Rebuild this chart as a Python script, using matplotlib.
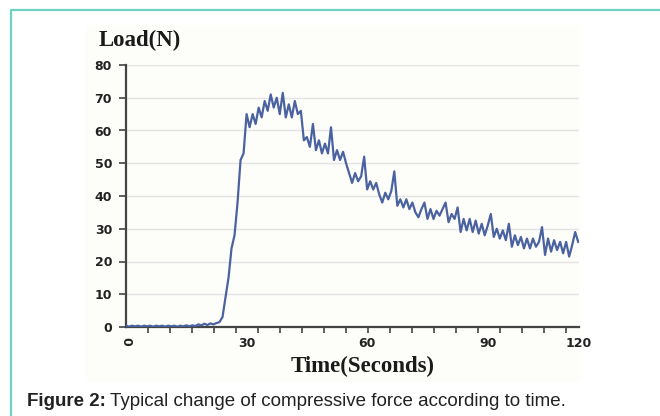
import numpy as np
import matplotlib
matplotlib.use("Agg")
import matplotlib.pyplot as plt
from matplotlib.lines import Line2D
from matplotlib.patches import Rectangle

# load readings, one every 0.75 s
time_step = 0.75
load_values = [
    0.4, 0.1, 0.4, 0.2, 0.4, 0.1, 0.4, 0.2, 0.4, 0.1,
    0.4, 0.2, 0.4, 0.1, 0.4, 0.2, 0.4, 0.1, 0.4, 0.2,
    0.5, 0.2, 0.5, 0.3, 0.8, 0.5, 1.0, 0.6, 1.1, 0.8,
    1.2, 1.5, 3, 9, 15, 24, 28, 38, 51, 53,
    65, 61, 65, 62, 67, 64, 69, 66, 71, 67,
    70, 65, 71.5, 64, 68, 64, 69, 65, 66, 57,
    58, 55, 62, 54, 57, 53, 56, 53, 61, 51,
    54, 51, 53.5, 50, 47, 44, 47, 44.5, 46, 52,
    42, 44.5, 42, 44, 40.5, 38, 41, 39, 41.5, 47.5,
    37, 39, 36.5, 39, 36, 38, 35, 33.5, 36, 38,
    33, 36, 33, 35.5, 34, 36, 38, 32, 34.5, 33,
    36.5, 29, 33, 29.5, 33, 29, 32.5, 28.5, 31.5, 28,
    31, 34.5, 27.5, 30, 27, 29.5, 26.5, 31.5, 24.5, 28,
    25, 27.5, 24, 27, 24, 27, 24.5, 26, 30.5, 22,
    27, 23, 26.5, 23.5, 26, 22.5, 26, 21.5, 25, 29,
    26,
]
times = np.arange(len(load_values)) * time_step

x_end = 112.7
x_label_pos = [0, 30, 60, 90, x_end]
x_labels = ["0", "30", "60", "90", "120"]
y_ticks = [0, 10, 20, 30, 40, 50, 60, 70, 80]

fig = plt.figure(figsize=(6.6, 4.16), dpi=100)

# faint background of the pasted chart image
bg = Rectangle((85 / 660, 1 - 382 / 416), 495 / 660, 357 / 416,
               transform=fig.transFigure, facecolor="#fdfdfa",
               edgecolor="none", zorder=-5)
fig.patches.append(bg)

ax = fig.add_axes([126 / 660, 89 / 416, (579 - 126) / 660, 262 / 416])
ax.set_zorder(1)
ax.set_facecolor("none")
ax.plot(times, load_values, color="#4a62a0", lw=1.6, zorder=3)

ax.set_xlim(0, x_end)
ax.set_ylim(0, 80)
ax.set_yticks(y_ticks)
ax.set_yticklabels([str(v) for v in y_ticks], fontweight="bold", fontsize=9,
                   color="#222222")
ax.yaxis.grid(True, color="#e3e3e3", lw=1)
ax.set_axisbelow(True)

ax.set_xticks(x_label_pos)
ax.set_xticklabels(x_labels, fontweight="bold", fontsize=9, color="#222222")
ax.get_xticklabels()[0].set_rotation(-90)
ax.set_xticks(np.arange(0, x_end, 5.47), minor=True)
ax.tick_params(axis="x", which="major", length=0, pad=7)
ax.tick_params(axis="x", which="minor", length=4, width=1.2, color="#444444",
               direction="out")
ax.tick_params(axis="y", length=5, width=1.2, color="#444444", pad=5)

for side in ["top", "right"]:
    ax.spines[side].set_visible(False)
for side in ["left", "bottom"]:
    ax.spines[side].set_color("#444444")
    ax.spines[side].set_linewidth(1.6)

fig.text(140 / 660, 1 - 40 / 416, "Load(N)", family="Liberation Serif",
         fontweight="bold", fontsize=16.5, ha="center", va="center", color="#1a1a1a")
fig.text(363 / 660, 1 - 366 / 416, "Time(Seconds)", family="Liberation Serif",
         fontweight="bold", fontsize=16.5, ha="center", va="center", color="#1a1a1a")

# frame of the figure box
border = "#6cd3c3"
fig.lines.append(Line2D([11 / 660, 11 / 660, 1], [0, 1 - 10 / 416, 1 - 10 / 416],
                        transform=fig.transFigure, color=border, lw=1.6))

# caption
cap_y = 1 - 401 / 416
t1 = fig.text(27 / 660, cap_y, "Figure 2:", family="Liberation Sans",
              fontweight="bold", fontsize=13.5, va="center", color="#222222")
renderer = fig.canvas.get_renderer()
bb = t1.get_window_extent(renderer)
fig.text((bb.x1 + 4) / 660, cap_y, "Typical change of compressive force according to time.",
         family="Liberation Sans", fontsize=13.5, va="center", color="#222222")

fig.savefig("out.png", dpi=100)
